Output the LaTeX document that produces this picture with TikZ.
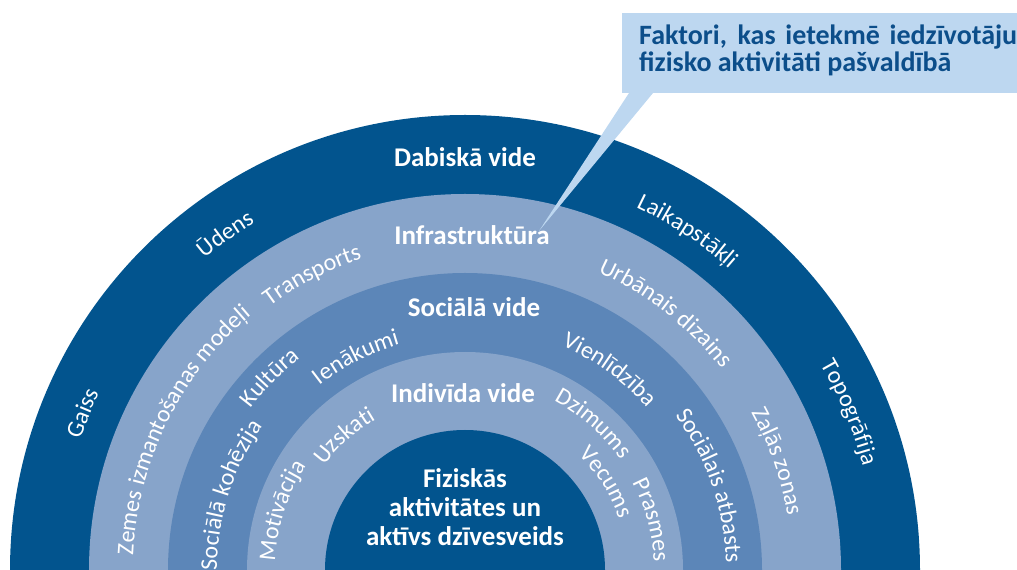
\documentclass[tikz,border=0pt]{standalone}
\usepackage{fontspec}
\setmainfont{Carlito}
\usetikzlibrary{decorations.text,calc}
\definecolor{ringdark}{RGB}{2,84,142}
\definecolor{ringlight}{RGB}{135,164,202}
\definecolor{ringmid}{RGB}{92,134,184}
\definecolor{callbg}{RGB}{189,215,240}
\definecolor{calltext}{RGB}{12,78,138}
\newcommand\lblfont{\color{white}\fontsize{24}{28}\selectfont}
\newcommand\arclabel[3]{\path[decorate,decoration={text along path,text align=center,text={|\lblfont|#3}}] ($(C)+({#2+45}:#1)$) arc[start angle={#2+45},end angle={#2-45},radius=#1];}
\begin{document}
\begin{tikzpicture}[x=1pt,y=1pt,
  ringtitle/.style={text=white,font=\bfseries\fontsize{27}{29}\selectfont,anchor=base,inner sep=0pt},
  calltxt/.style={text=calltext,font=\bfseries\fontsize{28}{30}\selectfont,anchor=base west,inner sep=0pt}]
\useasboundingbox (0,0) rectangle (1017,570);
\coordinate (C) at (465,0);
% rings
\fill[ringdark]  ($(C)+(-455,0)$) arc[start angle=180,end angle=0,radius=455] -- cycle;
\fill[ringlight] ($(C)+(-376,0)$) arc[start angle=180,end angle=0,radius=376] -- cycle;
\fill[ringmid]   ($(C)+(-297,0)$) arc[start angle=180,end angle=0,radius=297] -- cycle;
\fill[ringlight] ($(C)+(-218,0)$) arc[start angle=180,end angle=0,radius=218] -- cycle;
\fill[ringdark]  ($(C)+(-140,0)$) arc[start angle=180,end angle=0,radius=140] -- cycle;
% ring titles
\node[ringtitle] (t1) at (465,403) {Dabiskā vide};
\node[ringtitle] (t2) at (472,325) {Infrastruktūra};
\node[ringtitle] (t3) at (474,253) {Sociālā vide};
\node[ringtitle] (t4) at (463,167) {Indivīda vide};
\node[ringtitle] (c1) at (465,82) {Fiziskās};
\node[ringtitle] (c2) at (465,53) {aktivitātes un};
\node[ringtitle] (c3) at (465,24) {aktīvs dzīvesveids};
% ring 1
\arclabel{406}{157.7}{Gaiss}
\arclabel{406}{125.5}{Ūdens}
\arclabel{401}{56.7}{Laikapstākļi}
\arclabel{411}{22.3}{Topogrāfija}
% ring 2
\arclabel{332}{153.7}{Zemes izmantošanas modeļi}
\arclabel{328}{117.4}{Transports}
\arclabel{326}{52}{Urbānais dizains}
\arclabel{327}{19.2}{Zaļās zonas}
% ring 3
\arclabel{248}{162.3}{Sociālā kohēzija}
\arclabel{268}{135.4}{Kultūra}
\arclabel{235}{117.1}{Ienākumi}
\arclabel{244}{54.2}{Vienlīdzība}
\arclabel{261}{19}{Sociālais atbasts}
% ring 4
\arclabel{190}{162}{Motivācija}
\arclabel{175}{132}{Uzskati}
\arclabel{191}{48.8}{Dzimums}
\arclabel{162}{32}{Vecums}
\arclabel{189}{15}{Prasmes}
% callout
\coordinate (tip) at (539,339);
\fill[callbg] (629,477) -- (653,477) -- (tip) -- cycle;
\fill[callbg] (622,477) rectangle (1017,557);
\node[calltxt] (f1) at (639,525) {\makebox[378pt][s]{Faktori, kas ietekmē iedzīvotāju}};
\node[calltxt] (f2) at (639,498) {fizisko aktivitāti pašvaldībā};
\end{tikzpicture}
\end{document}
